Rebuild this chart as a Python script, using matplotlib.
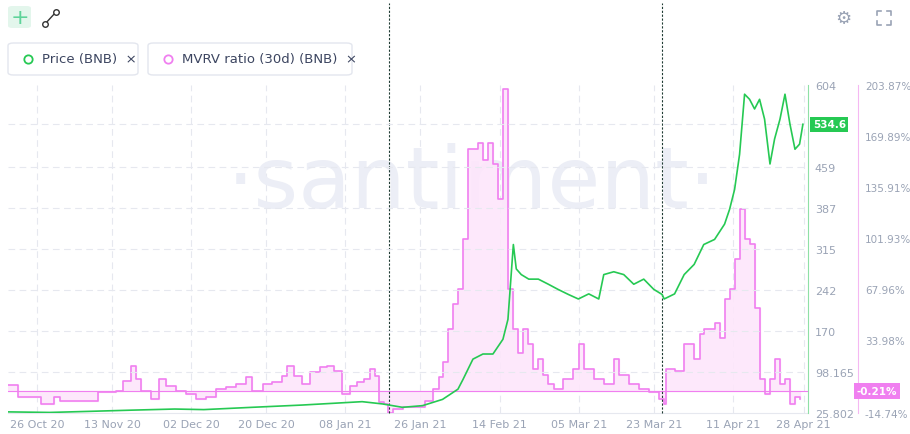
import numpy as np
import matplotlib.pyplot as plt
from matplotlib.patches import FancyBboxPatch
import pandas as pd

start = pd.Timestamp('2020-10-19')

# MVRV ratio (30d), % ; day offsets since start
mvrv_days = [0, 2.5, 5, 8, 11, 12.5, 21, 21.5, 24.6, 26, 27.5, 29.5, 30.7, 32, 34.3, 36.2, 38, 40.3,
             42.8, 45.2, 47.6, 50, 52.4, 54.8, 57.2, 58.5, 61.3, 63.3, 65.7, 67, 68.6, 70.5, 72.5,
             74.9, 76.6, 78.3, 80.2, 82, 83.8, 85.5, 87, 88, 89, 90.3, 91.3, 92.3, 94.7, 98.3, 100,
             102, 103.4, 104.3, 105.6, 106.8, 108, 109.2, 110.4, 111.6, 112.8, 114, 115.2, 116.4,
             117.6, 118.8, 119.6, 120, 121.3, 122.5, 123.7, 124.9, 126, 127.3, 128.5, 129.7, 131,
             133.3, 135.7, 137, 138.2, 140.6, 143, 145.4, 146.6, 149, 151.4, 153.9, 156.3, 157.5,
             158, 160, 162.3, 164.7, 166, 167, 169.6, 170.8, 172, 173.2, 174.4, 175.6, 176.8, 178,
             179.2, 180.4, 181.6, 182.9, 184, 185.3, 186.5, 187.7, 188.9, 190]
mvrv = [3.8, -4.1, -4.1, -8.7, -4, -6.7, -6.7, -0.7, -0.7, 0, 6.6, 16.6, 8, 0, -5, 8, 3.3, 0,
        -2, -5, -4, 1.3, 2.6, 4.6, 9.3, 0, 4.6, 6, 10, 16.6, 10, 4.6, 12.6,
        16, 16.6, 13.3, -2, 3.3, 6, 8, 14.6, 10, -7.4, -8.7, -14.7, -12, -10.7, -10.7, -6.7,
        1.3, 9.3, 19.3, 41.3, 58, 68, 101, 161, 161, 165, 154, 165, 151,
        128, 201, 201, 68, 41, 25, 41, 31, 14.6, 21, 11, 4.6, 1.3,
        8, 14.6, 31, 14.6, 8, 4.6, 21, 11, 4.6, 1.3, -0.7, -5, -8.7,
        14.6, 13.3, 31, 21, 38, 41, 45, 35, 61, 68, 88, 121, 101, 98,
        55, 8, -2, 8, 21, 4.6, 8, -8.7, -4, -5.4]

# Price (BNB), USD
price_days = [0, 10, 20, 29.5, 40, 47, 58.5, 70.5, 77.8, 85, 89.9, 94.7, 99.5, 104.3, 108, 109.2,
              110.4, 111.6, 114, 116.4, 118.8, 120, 121.3, 122, 123.2, 125, 127.3, 129.7, 132,
              134.5, 136.9, 139.4, 141.8, 143, 145.4, 147.8, 150.2, 152.6, 155, 157, 157.5, 160,
              162.3, 164.7, 167, 169.6, 172, 173.2, 174.4, 175.6, 176.8, 178, 179.2, 180.4,
              181.6, 182.9, 184, 185.3, 186.5, 187.7, 188.9, 190, 190.8]
price = [28, 27, 29, 31, 33, 32, 36, 40, 43, 46, 42, 36, 39, 50, 68, 85, 103, 121, 130, 130, 156,
         191, 323, 280, 270, 262, 262, 253, 244, 235, 227, 236, 227, 270, 275, 270, 253, 262, 244,
         235, 227, 236, 270, 288, 323, 332, 359, 385, 420, 482, 588, 579, 562, 579, 544,
         465, 509, 544, 588, 535, 491, 500, 535]

x_ticks = ['2020-10-26', '2020-11-13', '2020-12-02', '2020-12-20', '2021-01-08', '2021-01-26',
           '2021-02-14', '2021-03-05', '2021-03-23', '2021-04-11', '2021-04-28']
x_labels = ['26 Oct 20', '13 Nov 20', '02 Dec 20', '20 Dec 20', '08 Jan 21', '26 Jan 21',
            '14 Feb 21', '05 Mar 21', '23 Mar 21', '11 Apr 21', '28 Apr 21']
price_ticks = [25.802, 98.165, 170, 242, 315, 387, 459, 534.6, 604]
price_labels = ['25.802', '98.165', '170', '242', '315', '387', '459', '', '604']
mvrv_ticks = [-14.74, 0, 33.98, 67.96, 101.93, 135.91, 169.89, 203.87]
mvrv_labels = ['-14.74%', '', '33.98%', '67.96%', '101.93%', '135.91%', '169.89%', '203.87%']
event_days = ['2021-01-18 12:00', '2021-03-25']

green = '#26c953'
pink = '#f07ff0'
tickc = '#9aa3b5'

md = start + pd.to_timedelta(mvrv_days, unit='D')
pdays = start + pd.to_timedelta(price_days, unit='D')

fig = plt.figure(figsize=(9.1, 4.35), dpi=100)
ax = fig.add_axes([0.0088, 0.048, 0.879, 0.754])
ax.set_xlim(start, pd.Timestamp('2021-04-29'))
ax.set_ylim(-14.74, 203.87)
ax.step(md, mvrv, where='post', color=pink, lw=1.2, zorder=3)
ax.fill_between(md, mvrv, 0, step='post', color='#fde6fb', alpha=0.9, zorder=2)
ax.axhline(0, color=pink, lw=0.8, zorder=3)
ax.set_yticks([])
ax.set_xticks(pd.to_datetime(x_ticks))
ax.set_xticklabels(x_labels, fontsize=8, color=tickc)
ax.tick_params(axis='x', length=0, pad=4)
for s in ax.spines.values():
    s.set_visible(False)
ax.spines['bottom'].set_visible(True)
ax.spines['bottom'].set_color('#e6e8ef')
for t in pd.to_datetime(x_ticks):
    ax.axvline(t, color='#e6e8ef', lw=0.8, ls=(0, (6, 4)), zorder=0)
for d in event_days:
    ax.axvline(pd.Timestamp(d), color='#1f3b33', lw=0.8, ls=(0, (2, 1.5)), zorder=5,
               ymax=1.25, clip_on=False)
ax.text(0.58, 0.7, '·santiment·', transform=ax.transAxes, ha='center', va='center',
        fontsize=62, color='#eceef6', zorder=0)

ax2 = ax.twinx()
ax2.set_ylim(25.802, 604)
ax2.plot(pdays, price, color=green, lw=1.2, zorder=4)
ax2.set_yticks(price_ticks)
ax2.set_yticklabels(price_labels, fontsize=8, color=tickc)
for y in price_ticks[1:-1]:
    ax2.axhline(y, color='#e6e8ef', lw=0.8, ls=(0, (6, 4)), zorder=0)
ax2.tick_params(axis='y', length=0, pad=5)
for s in ax2.spines.values():
    s.set_visible(False)
ax2.spines['right'].set_visible(True)
ax2.spines['right'].set_color('#8fe0a6')
ax2.text(1.006, (534.6 - 25.802) / (604 - 25.802), '534.6', transform=ax2.transAxes,
         fontsize=7.5, color='white', va='center', fontweight='bold',
         bbox=dict(boxstyle='square,pad=0.25', fc=green, ec='none'))

ax3 = ax.twinx()
ax3.set_ylim(-14.74, 203.87)
ax3.spines['right'].set_position(('outward', 36))
for s in ax3.spines.values():
    s.set_visible(False)
ax3.spines['right'].set_visible(True)
ax3.spines['right'].set_color('#f5b8f2')
ax3.set_yticks(mvrv_ticks)
ax3.set_yticklabels(mvrv_labels, fontsize=7.5, color=tickc)
ax3.tick_params(axis='y', length=0, pad=5)
ax3.text(1.061, (-0.21 + 14.74) / 218.61, '-0.21%', transform=ax3.transAxes,
         fontsize=7.5, color='white', va='center', fontweight='bold',
         bbox=dict(boxstyle='square,pad=0.3', fc=pink, ec='none'))

# header
fig.patches.append(FancyBboxPatch((8 / 910, 1 - 29 / 435), 23 / 910, 22 / 435,
                                  boxstyle='round,pad=0,rounding_size=0.005',
                                  transform=fig.transFigure, fc='#e3f6ec', ec='none'))
fig.text(19.5 / 910, 1 - 18 / 435, '+', ha='center', va='center', fontsize=16, color='#5fd39a')
fig.lines.append(plt.Line2D([45 / 910, 56 / 910], [1 - 25 / 435, 1 - 13 / 435],
                            transform=fig.transFigure, color='#333', lw=1,
                            marker='o', mfc='white', ms=4))
for x0, w, txt, c in [(8, 130, 'Price (BNB)', green), (148, 204, 'MVRV ratio (30d) (BNB)', pink)]:
    fig.patches.append(FancyBboxPatch((x0 / 910, 1 - 76 / 435), w / 910, 32 / 435,
                                      boxstyle='round,pad=0,rounding_size=0.006',
                                      transform=fig.transFigure, fc='white', ec='#e3e6ee'))
    fig.lines.append(plt.Line2D([(x0 + 20) / 910], [1 - 60 / 435], transform=fig.transFigure,
                                marker='o', mfc='white', mec=c, ms=6, mew=1.3))
    fig.text((x0 + 34) / 910, 1 - 60 / 435, txt + '  ×', va='center', fontsize=9.5,
             color='#3c4560')
fig.text(843 / 910, 1 - 19 / 435, '⚙', ha='center', va='center', fontsize=13, color='#9aa3b5')
# expand icon: four corner brackets
cx, cy, r = 884, 19, 7
for sx in (-1, 1):
    for sy in (-1, 1):
        xs = [(cx + sx * r) / 910, (cx + sx * r) / 910, (cx + sx * (r - 4)) / 910]
        ys = [1 - (cy + sy * (r - 4)) / 435, 1 - (cy + sy * r) / 435, 1 - (cy + sy * r) / 435]
        fig.lines.append(plt.Line2D(xs, ys, transform=fig.transFigure, color='#9aa3b5', lw=1.2))

fig.savefig('out.png', dpi=100)
